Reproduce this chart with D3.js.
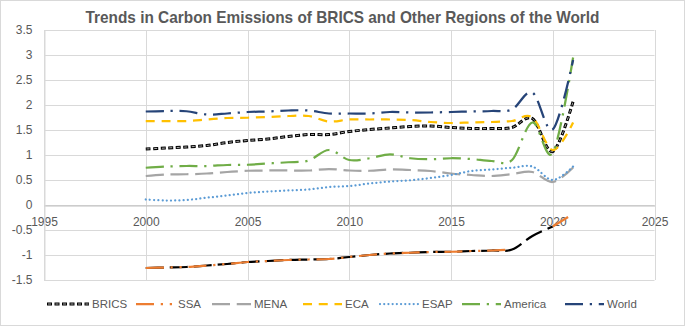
<!DOCTYPE html>
<html>
<head>
<meta charset="utf-8">
<script src="https://d3js.org/d3.v7.min.js"></script>
<style>
  body { margin: 0; background: #fff; }
  text { font-family: "Liberation Sans", Arial, sans-serif; fill: #595959; }
</style>
</head>
<body>
<div id="chart"></div>
<script>
// data
var years = d3.range(2000, 2022);
var xTicks = [1995, 2000, 2005, 2010, 2015, 2020, 2025];
var yTicks = [-1.5, -1, -0.5, 0, 0.5, 1, 1.5, 2, 2.5, 3, 3.5];

var brics   = [1.12,1.14,1.16,1.19,1.25,1.29,1.32,1.37,1.41,1.41,1.47,1.51,1.54,1.57,1.58,1.55,1.53,1.53,1.55,1.73,1.07,2.07];
var ssa     = [-1.26,-1.25,-1.24,-1.21,-1.18,-1.14,-1.12,-1.10,-1.09,-1.08,-1.04,-1.00,-0.97,-0.955,-0.94,-0.935,-0.92,-0.91,-0.89,-0.62,-0.43,-0.18];
var mena    = [0.58,0.61,0.615,0.63,0.66,0.685,0.69,0.69,0.69,0.72,0.69,0.685,0.71,0.70,0.68,0.63,0.60,0.58,0.62,0.66,0.46,0.75];
var eca     = [1.68,1.68,1.68,1.71,1.74,1.745,1.76,1.78,1.78,1.67,1.71,1.71,1.71,1.70,1.66,1.64,1.65,1.66,1.68,1.75,1.10,1.65];
var esap    = [0.11,0.09,0.10,0.146,0.19,0.24,0.27,0.29,0.31,0.36,0.38,0.43,0.47,0.495,0.54,0.60,0.68,0.71,0.745,0.77,0.50,0.77];
var america = [0.745,0.77,0.78,0.78,0.80,0.805,0.83,0.855,0.89,1.10,0.90,0.935,1.015,0.935,0.915,0.935,0.92,0.88,0.90,1.65,1.04,2.95];
var world   = [1.87,1.88,1.875,1.81,1.83,1.86,1.87,1.89,1.89,1.83,1.83,1.83,1.86,1.85,1.85,1.86,1.87,1.88,1.91,2.25,1.51,2.90];

var W = 685, H = 326;
var lw = 2.25;
function pat(a) { return a.map(function(d){ return d * lw; }).join(","); }

var series = [
  {name: "BRICS",   values: brics,   color: "#000000", dash: "5,2.5"},
  {name: "SSA",     values: ssa,     color: "#ED7D31", dash: pat([8,3,1,3,1,3])},
  {name: "MENA",    values: mena,    color: "#A5A5A5", dash: pat([8,3])},
  {name: "ECA",     values: eca,     color: "#FFC000", dash: pat([4,3])},
  {name: "ESAP",    values: esap,    color: "#5B9BD5", dash: "0.01,4.2", cap: "round"},
  {name: "America", values: america, color: "#70AD47", dash: pat([8,3,1,3])},
  {name: "World",   values: world,   color: "#264478", dash: pat([8,3,1,3])}
];

var svg = d3.select("#chart").append("svg")
    .attr("width", W)
    .attr("height", H);

// chart area border
svg.append("rect")
    .attr("x", 0.5).attr("y", 0.5)
    .attr("width", W - 1).attr("height", H - 1)
    .attr("fill", "#fff")
    .attr("stroke", "#d9d9d9");

svg.append("text")
    .attr("x", W / 2)
    .attr("y", 23)
    .attr("text-anchor", "middle")
    .attr("font-weight", "bold")
    .attr("font-size", "17px")
    .attr("textLength", 514)
    .attr("lengthAdjust", "spacingAndGlyphs")
    .text("Trends in Carbon Emissions of BRICS and Other Regions of the World");

var x = d3.scaleLinear().domain([1995, 2025]).range([44, 654.5]);
var y = d3.scaleLinear().domain([-1.5, 3.5]).range([280, 30]);

// gridlines
svg.append("g").selectAll("line").data(yTicks).enter().append("line")
    .attr("x1", x(1995)).attr("x2", x(2025))
    .attr("y1", function(d){ return Math.round(y(d)) + 0.5; })
    .attr("y2", function(d){ return Math.round(y(d)) + 0.5; })
    .attr("stroke", "#d9d9d9").attr("stroke-width", 1);
svg.append("g").selectAll("line").data(xTicks).enter().append("line")
    .attr("x1", function(d){ return Math.round(x(d)) + 0.5; })
    .attr("x2", function(d){ return Math.round(x(d)) + 0.5; })
    .attr("y1", y(3.5)).attr("y2", y(-1.5))
    .attr("stroke", "#d9d9d9").attr("stroke-width", 1);

// x axis sits at zero
var xAxis = svg.append("g")
    .attr("transform", "translate(0," + (Math.round(y(0)) + 0.5) + ")")
    .call(d3.axisBottom(x).tickValues(xTicks).tickFormat(d3.format("d")).tickSize(0).tickPadding(12));
xAxis.select(".domain").attr("stroke", "#bfbfbf");
xAxis.selectAll("text").attr("font-size", "12px").attr("fill", "#595959").attr("font-family", null);

var yAxis = svg.append("g")
    .attr("transform", "translate(" + (Math.round(x(1995)) + 0.5) + ",0)")
    .call(d3.axisLeft(y).tickValues(yTicks).tickFormat(function(d){ return String(d); }).tickSize(0).tickPadding(12));
yAxis.select(".domain").attr("stroke", "#d9d9d9");
yAxis.selectAll("text").attr("font-size", "12px").attr("fill", "#595959").attr("font-family", null);

var line = d3.line()
    .x(function(d){ return x(d[0]); })
    .y(function(d){ return y(d[1]); })
    .curve(d3.curveCardinal.tension(0));

function pts(vals) { return vals.map(function(v, i){ return [years[i], v]; }); }

var plot = svg.append("g");

// black dashed trace lying under SSA, up to 2020
plot.append("path")
    .attr("d", line(pts(ssa).filter(function(d){ return d[0] <= 2020; })))
    .attr("fill", "none").attr("stroke", "#000").attr("stroke-width", lw)
    .attr("stroke-dasharray", "18,6");

series.forEach(function(s) {
  var data = pts(s.values);
  var l = line;
  if (s.name === "SSA") {
    // orange is not drawn over the 2018-2020 stretch
    l = d3.line()
      .defined(function(d){ return d[0] <= 2018 || d[0] >= 2020; })
      .x(function(d){ return x(d[0]); })
      .y(function(d){ return y(d[1]); })
      .curve(d3.curveCardinal.tension(0));
  }
  plot.append("path")
    .attr("d", l(data))
    .attr("fill", "none")
    .attr("stroke", s.color)
    .attr("stroke-width", s.name === "BRICS" ? 3 : lw)
    .attr("stroke-dasharray", s.dash)
    .attr("stroke-linecap", s.cap || "butt");
  if (s.name === "BRICS") {
    plot.append("path")
      .attr("d", line(data))
      .attr("fill", "none").attr("stroke", "#bdbdbd").attr("stroke-width", 0.9)
      .attr("stroke-dasharray", "3,4.5").attr("stroke-dashoffset", -1);
  }
});

// legend
var legendX = [47, 136, 212, 303, 380, 462, 565];
var ly = 304;
var leg = svg.append("g");
series.forEach(function(s, i) {
  var lx = legendX[i];
  var len = s.name === "BRICS" ? 42 : 39;
  var g = leg.append("g");
  g.append("line")
    .attr("x1", lx).attr("x2", lx + len)
    .attr("y1", ly).attr("y2", ly)
    .attr("stroke", s.color)
    .attr("stroke-width", s.name === "BRICS" ? 3 : lw)
    .attr("stroke-dasharray", s.dash)
    .attr("stroke-linecap", s.cap || "butt");
  if (s.name === "BRICS") {
    g.append("line")
      .attr("x1", lx).attr("x2", lx + len)
      .attr("y1", ly).attr("y2", ly)
      .attr("stroke", "#bdbdbd").attr("stroke-width", 0.9)
      .attr("stroke-dasharray", "3,4.5").attr("stroke-dashoffset", -1);
  }
  g.append("text")
    .attr("x", lx + len + 3)
    .attr("y", ly)
    .attr("dy", "0.35em")
    .attr("font-size", "11.5px")
    .text(s.name);
});
</script>
</body>
</html>
